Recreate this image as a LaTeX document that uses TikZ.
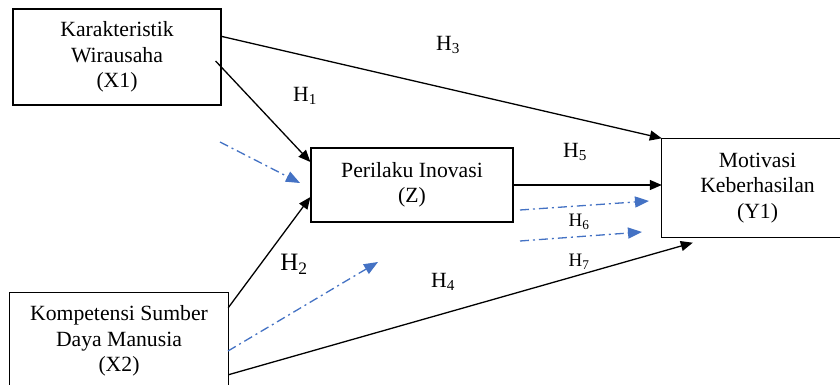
\documentclass[tikz,border=0pt]{standalone}
\usepackage{fontspec}
\setmainfont{Liberation Serif}
\usetikzlibrary{arrows.meta}
\definecolor{dashblue}{RGB}{68,114,196}
\begin{document}
\begin{tikzpicture}[x=1pt,y=-1pt,
  box/.style={draw, line width=1.2pt, inner sep=0pt, align=center, font=\fontsize{21.7}{25.5}\selectfont},
  openbox/.style={inner sep=0pt, align=center, font=\fontsize{21.7}{25.5}\selectfont},
  edge/.style={line width=1.2pt},
  solidarrow/.style={line width=1.3pt, -{Triangle[length=12pt,width=10pt]}},
  bluearrow/.style={dashblue, line width=1.3pt, dash pattern=on 9pt off 4pt on 2pt off 4pt, -{Triangle[length=14pt,width=11pt]}},
  hlab/.style={font=\fontsize{21.7}{24}\selectfont, inner sep=0pt},
  hsmall/.style={font=\fontsize{19}{22}\selectfont, inner sep=0pt},
  hbig/.style={font=\fontsize{25}{28}\selectfont, inner sep=0pt}]
\useasboundingbox (0,0) rectangle (840,385);
\fill[white] (0,0) rectangle (840,385);

\node[box, minimum width=208pt, minimum height=96pt] (X1) at (117,57) {Karakteristik\\Wirausaha\\(X1)};
\node[box, minimum width=202pt, minimum height=74pt] (Z) at (412,185) {Perilaku Inovasi\\(Z)};
\node[openbox, minimum width=191pt, minimum height=99pt] (Y1) at (757.5,188) {Motivasi\\Keberhasilan\\(Y1)};
\node[openbox, minimum width=218pt, minimum height=96pt] (X2) at (119,341) {Kompetensi Sumber\\Daya Manusia\\(X2)};
% boxes cut by the picture's edge
\draw[edge] ([xshift=60pt]Y1.north east) -- (Y1.north west) -- (Y1.south west) -- ([xshift=60pt]Y1.south east);
\draw[edge] ([yshift=-30pt]X2.south west) -- (X2.north west) -- (X2.north east) -- ([yshift=-30pt]X2.south east);

% solid arrows
\draw[solidarrow] ([yshift=-28pt]X1.north east) -- (Y1.north west);
\draw[solidarrow] ([xshift=-6pt,yshift=-4pt]X1.east) -- ([yshift=23pt]Z.west);
\draw[solidarrow] ([yshift=-15pt]X2.north east) -- ([yshift=-12pt]Z.west);
\draw[solidarrow] ([yshift=-82pt]X2.north east) -- ([xshift=31pt,yshift=-5pt]Y1.south west);
\draw[solidarrow] (Z.east) -- (Z.east -| Y1.west);

% dash-dot arrows
\coordinate (b1s) at (220,142); \coordinate (b1e) at (300,183);
\coordinate (b2s) at (228,351); \coordinate (b2e) at (378,262);
\coordinate (b3s) at (520,210); \coordinate (b3e) at (649,201);
\coordinate (b4s) at (520,241); \coordinate (b4e) at (642,232);
\draw[bluearrow] (b1s) -- (b1e);
\draw[bluearrow] (b2s) -- (b2e);
\draw[bluearrow] (b3s) -- (b3e);
\draw[bluearrow] (b4s) -- (b4e);

% labels
\node[hlab] (H3) at (448,45) {H\textsubscript{3}};
\node[hlab] (H1) at (305,96) {H\textsubscript{1}};
\node[hlab] (H5) at (575,152) {H\textsubscript{5}};
\node[hsmall] (H6) at (579,222) {H\textsubscript{6}};
\node[hsmall] (H7) at (579,262) {H\textsubscript{7}};
\node[hbig] (H2) at (294,264) {H\textsubscript{2}};
\node[hlab] (H4) at (443,282) {H\textsubscript{4}};
\end{tikzpicture}
\end{document}
